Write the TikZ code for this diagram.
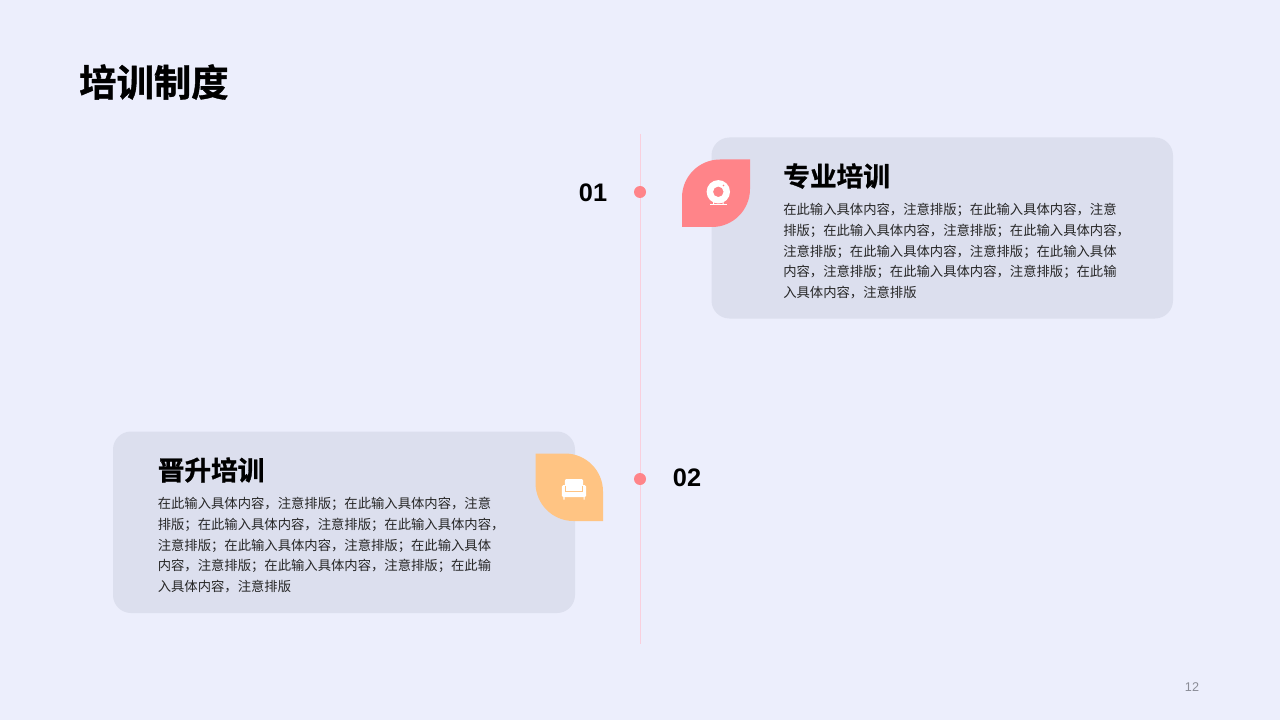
\documentclass[tikz,border=0pt]{standalone}
\usepackage{fontspec}
\setmainfont{Liberation Sans}
\newfontfamily\cjk{Noto Sans CJK SC}
\newfontfamily\cjkb[FakeBold=1]{Noto Sans CJK SC Bold}
\definecolor{bgc}{HTML}{ECEEFC}
\definecolor{cardc}{HTML}{DCDFEE}
\definecolor{redc}{HTML}{FF8489}
\definecolor{orangec}{HTML}{FFC483}
\definecolor{linec}{HTML}{F9CFDD}
\definecolor{pagec}{HTML}{8A8C96}
\definecolor{bodyc}{HTML}{262626}
\tikzset{
  x=0.75pt,y=-0.75pt,
  card/.style={fill=cardc,rounded corners=13.5pt},
  head/.style={inner sep=0pt,anchor=west,font=\cjkb\fontsize{20}{24}\selectfont,text=black},
  para/.style={inner sep=0pt,anchor=north west,align=left,text=bodyc,font=\cjk\fontsize{10}{15.6}\selectfont},
  num/.style={inner sep=0pt,font=\bfseries\fontsize{19}{24}\selectfont,text=black},
  dot/.style={circle,fill=redc,inner sep=0pt,minimum size=9pt},
  glyph/.style={fill=white,draw=none},
}
\begin{document}
\begin{tikzpicture}
\useasboundingbox (0,0) rectangle (1280,720);
\fill[bgc] (0,0) rectangle (1280,720);
\node[inner sep=0pt,anchor=west,font=\cjkb\fontsize{28}{34}\selectfont,text=black] (title) at (79,82) {培训制度};
\coordinate (lt) at (640.5,134);
\coordinate (lb) at (640.5,644);
\draw[linec,line width=0.75pt] (lt) -- (lb);
% top card
\fill[card] (711.5,137.5) rectangle (1173,318.5);
\fill[redc] (750,159.5) -- (750,189) arc[start angle=0,end angle=90,radius=38] -- (682,227) -- (682,197.5) arc[start angle=180,end angle=270,radius=38] -- cycle;
\fill[glyph,even odd rule] (718.3,191.8) circle[radius=11.7] (718.3,191.8) circle[radius=5.3];
\fill[glyph] (710,204.3) rectangle (726.5,205.5);
\fill[glyph] (713,202) rectangle (714.2,204.5) (722.5,202) rectangle (723.7,204.5);
\fill[redc] (723.5,185.5) circle[radius=0.9];
\node[head] (h1) at (783,176) {专业培训};
\node[para] (p1) at (783,203) {在此输入具体内容，注意排版；在此输入具体内容，注意\\排版；在此输入具体内容，注意排版；在此输入具体内容，\\注意排版；在此输入具体内容，注意排版；在此输入具体\\内容，注意排版；在此输入具体内容，注意排版；在此输\\入具体内容，注意排版};
\node[dot] (d1) at (640,192) {};
\node[num] (n1) at (593,193) {01};
% bottom card
\fill[card] (113,431.5) rectangle (575,613);
\fill[orangec] (535.5,453.5) -- (565,453.5) arc[start angle=-90,end angle=0,radius=38] -- (603,521) -- (573.5,521) arc[start angle=90,end angle=180,radius=38] -- cycle;
\fill[glyph,rounded corners=1.5pt] (564.8,479) rectangle (583.2,490);
\fill[glyph,rounded corners=1.2pt] (561.8,485) rectangle (586.2,497.2);
\draw[orangec,line width=0.3pt] (565.5,486) -- (565.5,491) -- (582.5,491) -- (582.5,486);
\fill[glyph] (563.3,497) rectangle (564.5,499.5) (583.5,497) rectangle (584.7,499.5);
\node[head] (h2) at (157.5,470) {晋升培训};
\node[para] (p2) at (157.5,497) {在此输入具体内容，注意排版；在此输入具体内容，注意\\排版；在此输入具体内容，注意排版；在此输入具体内容，\\注意排版；在此输入具体内容，注意排版；在此输入具体\\内容，注意排版；在此输入具体内容，注意排版；在此输\\入具体内容，注意排版};
\node[dot] (d2) at (640,479) {};
\node[num] (n2) at (687,478) {02};
\node[inner sep=0pt,text=pagec,font=\fontsize{9.5}{11}\selectfont] (pg) at (1192,687) {12};
\end{tikzpicture}
\end{document}
